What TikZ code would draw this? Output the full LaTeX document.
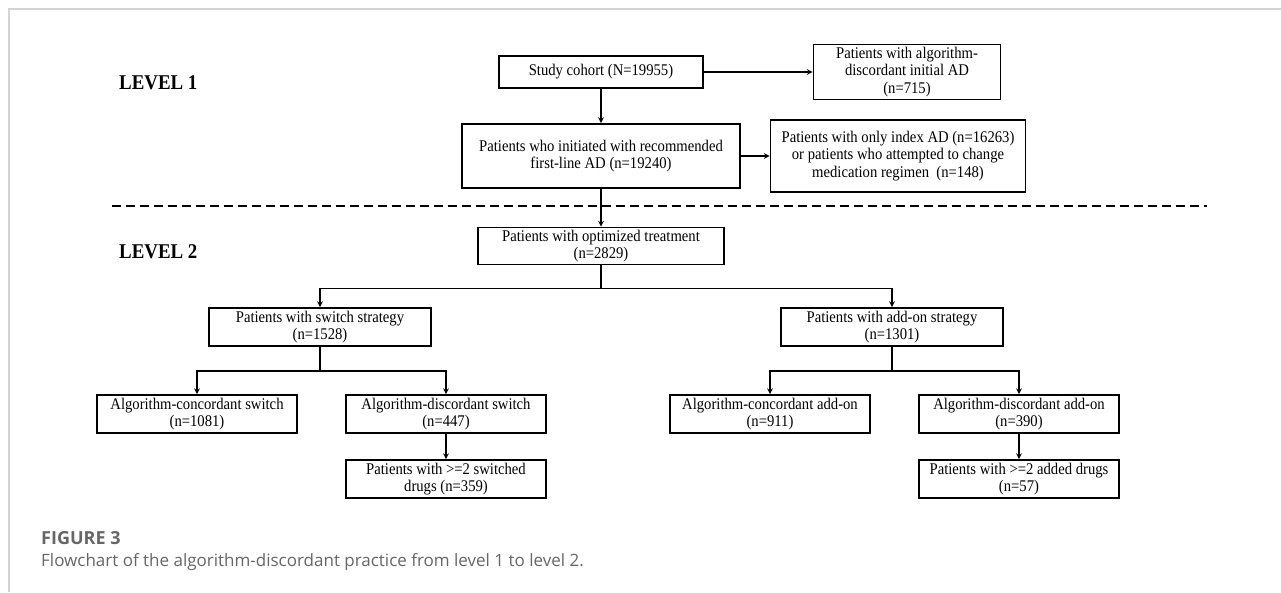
\documentclass[tikz,border=0pt]{standalone}
\usepackage{fontspec}
\setmainfont{Liberation Serif}[FakeStretch=0.9]
\newfontfamily\capfont{Open Sans}
\definecolor{capgray}{HTML}{666666}
\definecolor{framegray}{HTML}{D4D4D4}

\begin{document}
\begin{tikzpicture}[x=1pt, y=1pt, node distance=87pt, >=stealth,
    box/.style={rectangle, draw, line width=1.6pt, align=center, inner sep=0pt, font=\fontsize{16.3}{17.5}\selectfont},
    lvl/.style={anchor=west, inner sep=0pt, font=\fontsize{21}{21}\selectfont\bfseries},
    link/.style={->, line width=1.6pt}]
                \useasboundingbox (0,0) rectangle (1281,-592);
                \draw[framegray, line width=1.5pt] (9,-592) -- (9,-9) -- (1281,-9);

                % Poziomy
                \node (level1) [lvl] at (119,-83) {LEVEL 1};
                \node (level2) [lvl] at (119,-252) {LEVEL 2};
                \draw[dashed, dash pattern=on 9pt off 5pt, line width=1.6pt] (112,-206) -- (1207,-206);

                % Bloki
                \node (cohort) [box, minimum width=204pt, minimum height=32pt] at (601,-72) {Study cohort (N=19955)};
                \node (discAD) [box, right of=cohort, xshift=219pt, minimum width=187pt, minimum height=55pt] {Patients with algorithm-\\discordant initial AD\\(n=715)};
                \node (initial) [box, below of=cohort, yshift=3pt, minimum width=278pt, minimum height=64pt] {Patients who initiated with recommended\\first-line AD (n=19240)};
                \node (onlyindex) [box, right of=initial, xshift=210pt, minimum width=255pt, minimum height=72pt] {Patients with only index AD (n=16263)\\or patients who attempted to change\\medication regimen\ \ (n=148)};
                \node (optimized) [box, below of=initial, yshift=-3pt, minimum width=246pt, minimum height=37pt] {Patients with optimized treatment\\(n=2829)};
                \node (switch) [box, below of=optimized, xshift=-281pt, yshift=6pt, minimum width=222pt, minimum height=38pt] {Patients with switch strategy\\(n=1528)};
                \node (addon) [box, below of=optimized, xshift=291pt, yshift=6pt, minimum width=222pt, minimum height=38pt] {Patients with add-on strategy\\(n=1301)};
                \node (conc1) [box, below of=switch, xshift=-123pt, minimum width=200pt, minimum height=38pt] {Algorithm-concordant switch\\(n=1081)};
                \node (disc1) [box, below of=switch, xshift=126pt, minimum width=200pt, minimum height=38pt] {Algorithm-discordant switch\\(n=447)};
                \node (multi1) [box, below of=disc1, yshift=22pt, minimum width=200pt, minimum height=38pt] {Patients with >=2 switched\\drugs (n=359)};
                \node (conc2) [box, below of=addon, xshift=-122pt, minimum width=200pt, minimum height=38pt] {Algorithm-concordant add-on\\(n=911)};
                \node (disc2) [box, below of=addon, xshift=127pt, minimum width=200pt, minimum height=38pt] {Algorithm-discordant add-on\\(n=390)};
                \node (multi2) [box, below of=disc2, yshift=22pt, minimum width=200pt, minimum height=38pt] {Patients with >=2 added drugs\\(n=57)};

                % Strzałki
                \draw[link] (cohort) -- (discAD);
                \draw[link] (cohort) -- (initial);
                \draw[link] (initial) -- (onlyindex);
                \draw[link] (initial) -- (optimized);
                \draw[link] (optimized.south) -- ++(0,-23) -| (switch);
                \draw[link] (optimized.south) -- ++(0,-23) -| (addon);
                \draw[link] (switch.south) -- ++(0,-24) -| (conc1);
                \draw[link] (switch.south) -- ++(0,-24) -| (disc1);
                \draw[link] (disc1) -- (multi1);
                \draw[link] (addon.south) -- ++(0,-24) -| (conc2);
                \draw[link] (addon.south) -- ++(0,-24) -| (disc2);
                \draw[link] (disc2) -- (multi2);

                % Podpis
                \node (figlabel) [anchor=west, inner sep=0pt, text=capgray, font=\capfont\bfseries\fontsize{18}{18}\selectfont] at (41,-538) {FIGURE 3};
                \node (caption) [anchor=west, inner sep=0pt, text=capgray, font=\capfont\fontsize{17}{17}\selectfont] at (41,-562) {Flowchart of the algorithm-discordant practice from level 1 to level 2.};
            \end{tikzpicture}
\end{document}
